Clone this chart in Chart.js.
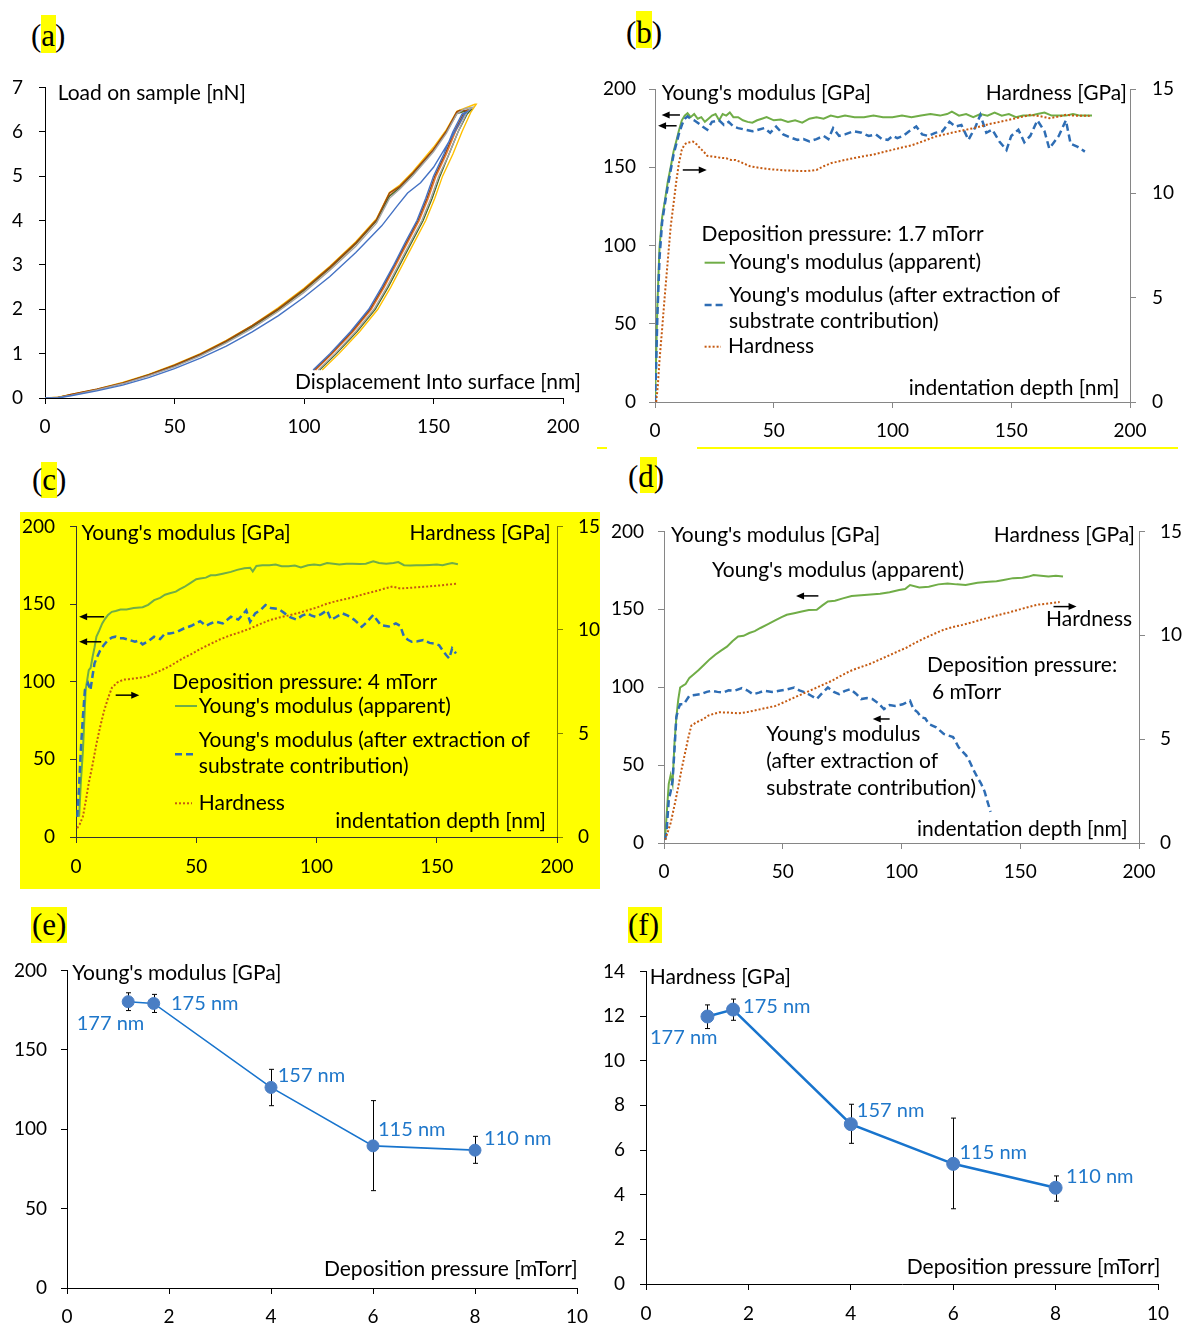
<!DOCTYPE html>
<html>
<head>
<meta charset="utf-8">
<script src="https://cdn.jsdelivr.net/npm/chart.js@4.4.1/dist/chart.umd.min.js"></script>
<style>
  html, body { margin: 0; padding: 0; background: #fff; }
  body { width: 1183px; height: 1327px; position: relative; overflow: hidden; }
  canvas { position: absolute; }
  .tag { position: absolute; font-family: "Liberation Serif", "Times New Roman", serif; font-size: 31px; line-height: 1; color: #000; white-space: nowrap; }
  .hl { position: absolute; background: #ffff00; }
</style>
</head>
<body>
<!-- highlight marks and the yellow panel background -->
<div class="hl" style="left:20px;top:512px;width:580px;height:377px"></div>
<div class="hl" style="left:41px;top:15px;width:15px;height:38px"></div>
<div class="hl" style="left:636px;top:11px;width:16px;height:37px"></div>
<div class="hl" style="left:41px;top:462px;width:16px;height:36px"></div>
<div class="hl" style="left:640px;top:457px;width:17px;height:36px"></div>
<div class="hl" style="left:31px;top:907px;width:36px;height:36px"></div>
<div class="hl" style="left:628px;top:907px;width:34px;height:36px"></div>
<div class="hl" style="left:597px;top:447px;width:10px;height:2px"></div>
<div class="hl" style="left:697px;top:447px;width:481px;height:2px"></div>

<div class="tag" style="left:31px;top:20px">(a)</div>
<div class="tag" style="left:626px;top:17px">(b)</div>
<div class="tag" style="left:32px;top:464px">(c)</div>
<div class="tag" style="left:628px;top:461px">(d)</div>
<div class="tag" style="left:32px;top:909px">(e)</div>
<div class="tag" style="left:628px;top:909px">(f)</div>

<canvas id="ca"></canvas>
<canvas id="cb"></canvas>
<canvas id="cc"></canvas>
<canvas id="cd"></canvas>
<canvas id="ce"></canvas>
<canvas id="cf"></canvas>

<script>
// ---------- (a) load–displacement curves: loading, hold, unloading ----------
const aDepth1 = [0,5,10,20,30,40,50,60,70,80,90,100,110,120,130,136,140,145,150,155,160,162,
                 163,161,157.5,154,150,147,143.6,139,134.7,130,125,118,110,103.5];
const aLoad1  = [0,0,0.05,0.16,0.29,0.46,0.66,0.9,1.17,1.49,1.85,2.27,2.74,3.28,3.88,4.33,4.62,4.85,5.2,5.68,6.18,6.4,
                 6.45,6.4,6.0,5.5,5.0,4.5,4.0,3.5,3.0,2.5,2.0,1.5,1.0,0.63];
const aDepth2 = [0,5,10,20,30,40,50,60,70,80,90,100,110,120,128,133,137,142,150,155,159,161,
                 164,162,158.5,155,151,148,144.5,140,135.5,131,126,119,111,104.5];
const aLoad2  = [0,0.01,0.07,0.19,0.33,0.51,0.72,0.97,1.26,1.6,1.98,2.42,2.92,3.47,3.99,4.57,4.76,5.06,5.6,6.01,6.43,6.46,
                 6.5,6.4,6.0,5.5,5.0,4.5,4.0,3.5,3.0,2.5,2.0,1.5,1.0,0.63];
const aDepth3 = [0,5,10,20,30,40,50,60,70,80,90,100,110,120,128,133,137,142,150,155,159,162,
                 165,163,159.5,156,152,149,145.5,141,136.5,132,127,120,112,105.5];
const aLoad3  = [0,0.01,0.06,0.18,0.32,0.5,0.7,0.95,1.24,1.57,1.95,2.38,2.88,3.42,3.94,4.5,4.71,5.01,5.55,5.97,6.4,6.52,
                 6.55,6.45,6.0,5.5,5.0,4.5,4.0,3.5,3.0,2.5,2.0,1.5,1.0,0.63];
const aDepth4 = [0,5,10,20,30,40,50,60,70,80,90,100,110,120,128,133,137,142,150,155,159,166,
                 166.5,164.5,161,157.5,153.5,150.5,147,142.5,138,133.5,128.5,121.5,113.5,107];
const aLoad4  = [0,0.02,0.08,0.2,0.35,0.53,0.75,1.0,1.3,1.64,2.03,2.47,2.97,3.52,4.04,4.63,4.8,5.1,5.65,6.05,6.46,6.62,
                 6.62,6.45,6.0,5.5,5.0,4.5,4.0,3.5,3.0,2.5,2.0,1.5,1.0,0.63];
const aDepth5 = [0,5,10,20,30,40,50,60,70,80,90,100,110,120,128,133,137,142,150,155,159,163,
                 164.5,163,159.5,156,152.5,149.5,146,141.5,137,132.5,127.5,120.5,112.5,106];
const aLoad5  = [0,0.01,0.07,0.19,0.33,0.52,0.73,0.98,1.27,1.61,1.99,2.43,2.93,3.48,4.0,4.55,4.74,5.05,5.58,6.0,6.41,6.48,
                 6.5,6.4,6.0,5.5,5.0,4.5,4.0,3.5,3.0,2.5,2.0,1.5,1.0,0.63];
const aDepth6 = [0,5,10,20,30,40,50,60,70,80,90,100,110,120,128,133,137,142,150,155,159,160,
                 163.5,161.5,158,154.5,150.5,147.5,144,139.5,135,130.5,125.5,118.5,110.5,104];
const aLoad6  = [0,0.01,0.08,0.2,0.34,0.52,0.74,0.99,1.29,1.63,2.01,2.45,2.95,3.5,4.02,4.62,4.77,5.07,5.6,6.02,6.45,6.48,
                 6.48,6.4,6.0,5.5,5.0,4.5,4.0,3.5,3.0,2.5,2.0,1.5,1.0,0.63];

// ---------- (b) 1.7 mTorr ----------
const bGreenX = [
  0, 0.5, 1, 1.9, 3, 4.2, 5.4, 6.6, 7.8, 9,
  10, 11.3, 12.5, 13.7, 15, 16.5, 18, 19.5, 21, 22.5,
  24, 25.5, 27, 28.5, 30, 31.5, 33, 35, 37, 39,
  41, 43, 45, 47, 50, 53, 56, 59, 62, 65,
  68, 71, 74, 77, 80, 84, 88, 92, 96, 100,
  104, 108, 112, 116, 120, 123, 125, 128, 131, 134,
  137, 140, 143, 146, 149, 152, 155, 158, 161, 164,
  167, 170, 173, 176, 179, 182, 184];
const bGreenY = [
  0, 30, 62, 99, 118, 129, 141, 150, 160, 167,
  173, 180, 183, 184.5, 182, 184, 181, 182, 179, 181,
  183, 184, 180, 184, 183, 185, 182, 182, 180, 179,
  178.5, 180, 181, 182, 180, 180.5, 179, 180, 178.5, 181,
  182, 181, 183, 182, 183, 182, 182, 183, 182, 182,
  183, 182, 183, 184, 183, 184, 185.5, 183, 184, 182,
  184, 183, 185, 183, 184, 182, 183, 183, 184, 185,
  183, 183, 183, 184, 183, 183, 183];
const bBlueX = [
  0, 0.5, 1, 1.9, 3, 4.2, 5.4, 6.6, 7.8, 9,
  10, 11.3, 12.5, 13.7, 15, 16.5, 18.4, 20, 22, 24,
  27, 29, 31, 33, 35, 38, 41, 43.5, 46, 48.5,
  51, 54, 57, 60, 62.5, 65, 68, 71, 73, 75,
  77.5, 80, 83.5, 87, 90, 93, 95.5, 98, 100, 102,
  104.5, 107, 110, 112.5, 115, 118, 121, 124, 126.5, 129,
  132, 135, 137, 139.5, 142, 145, 148, 150, 153, 155.5,
  158, 161, 164, 166, 168, 170, 173, 175, 178, 181];
const bBlueY = [
  0, 25, 55, 92, 115, 127, 138, 148, 158, 165,
  171, 177, 181, 182.5, 181, 180, 178, 176, 174, 179,
  180, 177, 179, 176, 175, 174, 173, 174, 175, 172,
  176, 171, 169, 167.5, 168, 166.5, 168, 170, 168, 175,
  170, 171, 173, 172, 170, 171, 168, 167.5, 170, 168.6,
  170, 173, 176, 171, 170, 172, 173, 179, 176, 177,
  167.5, 176, 183.5, 172, 174, 166.5, 161, 170, 174, 166,
  170, 180, 173, 162, 166, 170, 180, 165, 163, 160];
const bHardX = [
  0.5, 1.2, 1.9, 3, 4.2, 5.4, 6.6, 7.8, 9, 10,
  11.3, 12.5, 13.7, 15, 16, 17.5, 19, 20.5, 22, 25,
  28, 30, 32, 34, 37, 40, 44, 49, 55, 61.6,
  65, 68, 71, 74, 78, 82, 87, 92, 97, 102.6,
  108, 113, 118, 123, 128, 134, 140, 145, 150, 154,
  158, 162, 166, 170, 173, 177, 180, 183];
const bHardY = [
  0, 0.8, 2.0, 3.5, 5.2, 6.8, 8.4, 9.5, 10.6, 11.4,
  12.1, 12.35, 12.43, 12.45, 12.48, 12.35, 12.16, 12.0, 11.8, 11.75,
  11.7, 11.68, 11.6, 11.6, 11.45, 11.3, 11.22, 11.15, 11.1, 11.07,
  11.08, 11.12, 11.3, 11.44, 11.55, 11.65, 11.76, 11.86, 12.0, 12.16,
  12.3, 12.5, 12.72, 12.85, 12.98, 13.12, 13.3, 13.42, 13.55, 13.65,
  13.76, 13.7, 13.6, 13.68, 13.76, 13.72, 13.72, 13.71];

// ---------- (c) 4 mTorr ----------
const cGreenX = [
  1.3, 2, 2.9, 4, 5.3, 6.1, 6.9, 7.7, 8.5, 9.7,
  10.9, 12.1, 13.3, 14.9, 16.5, 18.5, 21, 24, 27.7, 30,
  32.5, 35, 37, 39, 41.5, 43, 45, 47.5, 50, 51.6,
  54, 56, 58, 61, 64.4, 67, 70, 72.4, 73.5, 75,
  77.5, 80.4, 83, 85.5, 88.4, 91, 93.5, 96.4, 99, 101.5,
  104.4, 107, 109.5, 112.4, 115, 118, 120.5, 123.6, 126, 129,
  132, 134, 136.4, 139, 141.5, 144.4, 147, 150, 152.4, 154.5,
  156.4, 158.8];
const cGreenY = [
  13, 35, 56, 94.6, 107.5, 109, 116, 122, 129, 133,
  137.5, 140.5, 143, 145, 145.5, 146.5, 146.5, 147.5, 148, 149.5,
  152.5, 154, 156, 157, 158, 159.5, 161, 163.5, 166, 166.4,
  167, 168.5, 168.5, 169.5, 170.7, 172, 173, 173.4, 171, 174.5,
  175, 175, 175.5, 174.3, 174.3, 174.8, 173.5, 175, 175.5, 175,
  176.4, 176, 175.5, 176, 176, 175.8, 176, 177.5, 176.5, 176,
  176.5, 177, 175, 174.8, 175, 175, 175.2, 175.5, 175, 175.8,
  176.4, 175.6];
const cBlueX = [
  0.5, 1.2, 2, 2.9, 3.7, 5, 6, 6.9, 7.7, 8.8,
  10, 11.5, 13.3, 15, 16.5, 18, 19.7, 22, 24.5, 26,
  27.7, 30, 32.5, 35, 37, 39, 42, 45, 48, 51.6,
  54, 56, 58, 61, 64.4, 67.5, 70.8, 72.4, 74.5, 77,
  78.8, 81, 83.6, 85, 86.8, 89, 91.6, 94, 96.4, 98,
  99.6, 102, 104.4, 106, 108, 110.8, 113, 115.6, 117, 118.8,
  121, 123.6, 125, 126.8, 130, 133, 134.8, 136.4, 138, 139.6,
  142, 144.4, 147, 149, 151, 152.5, 154, 155.2, 156.4, 158];
const cBlueY = [
  13, 30, 56, 78, 94.6, 99, 94.6, 104, 111.8, 116,
  120, 123.5, 126.8, 128.5, 129, 128, 128, 127, 125.7, 126.5,
  124, 126, 129, 127.5, 131, 131, 132, 134.4, 136, 139,
  136, 137.5, 138.7, 137.5, 141.8, 140, 146, 138.6, 144, 146.5,
  149.4, 147.5, 147, 146, 144, 141.5, 140, 142.5, 144, 142.5,
  141.8, 143.5, 146, 140, 141.5, 144, 142.5, 140, 138, 135.3,
  138.5, 143, 140, 136.4, 135.5, 137.5, 136, 129, 127, 125.7,
  126, 126.8, 125, 124.6, 123.5, 120, 117, 115, 121.4, 118.2];
const cHardX = [
  0.5, 1.5, 2.9, 4, 5.3, 6.9, 8.5, 10, 11.7, 13.3,
  14.9, 17, 19.7, 22, 24.5, 27, 29.3, 32.5, 35.6, 39,
  42, 45, 48.4, 52, 56.4, 60, 64.4, 68.5, 72.4, 76.5,
  80.4, 84.5, 88.4, 92.5, 96.4, 100.5, 104.4, 108.5, 112.4, 116.5,
  120.4, 124.5, 128.4, 131.6, 134.8, 139.5, 144.4, 148.5, 152.4, 155.5,
  158.8];
const cHardY = [
  0.43, 0.6, 1.0, 1.7, 2.6, 3.5, 4.5, 5.3, 6.1, 6.7,
  7.2, 7.45, 7.6, 7.62, 7.66, 7.7, 7.74, 7.9, 8.06, 8.25,
  8.46, 8.66, 8.86, 9.1, 9.35, 9.55, 9.75, 9.9, 10.07, 10.28,
  10.47, 10.6, 10.7, 10.82, 10.95, 11.1, 11.27, 11.4, 11.5, 11.62,
  11.75, 11.87, 12.0, 12.1, 12.0, 12.04, 12.08, 12.12, 12.16, 12.2,
  12.24];

// ---------- (d) 6 mTorr ----------
const dGreenX = [
  0.5, 1.2, 2, 2.8, 3.6, 4.4, 5.2, 6, 6.8, 8,
  9.1, 10.7, 12.3, 14.6, 17, 19.3, 21.7, 24, 26.5, 28.8,
  31.2, 33.5, 35.9, 38.2, 40.6, 43.8, 47, 49.5, 51.7, 54.8,
  58, 61, 64.3, 66.7, 69, 72, 75.3, 79, 83, 87,
  91, 95, 99, 101.5, 103.6, 107.5, 111.5, 115.5, 119.4, 123.2,
  127, 132, 136.7, 140, 143, 147, 150.9, 153.5, 155.6, 158.7,
  161.9, 165, 168];
const dGreenY = [
  4, 20, 38, 43.5, 38, 63.7, 80.7, 92, 99.8, 101,
  102, 106, 108, 111, 114.6, 118, 121, 123.5, 126, 129.5,
  132.5, 133, 134.8, 136, 138, 140.5, 143, 145, 146.5, 147.5,
  148.6, 149.5, 149.7, 152.5, 155, 155.5, 157, 158.5, 159, 159.5,
  160, 161, 162.4, 163, 165.6, 164, 164.5, 166, 166.6, 166,
  165.6, 167, 167.7, 168, 168.8, 170, 170.3, 171, 172, 171.5,
  171, 171.5, 171];
const dBlueX = [
  0.5, 1.2, 2, 2.8, 3.6, 4.4, 5.2, 6, 6.8, 8.3,
  10.7, 13, 15.4, 18, 20, 22.5, 24.9, 27.2, 29.6, 32.8,
  35, 37.5, 40, 42.2, 45.5, 48.5, 51.5, 54.8, 57, 59.5,
  62, 64.3, 66.5, 69, 71.5, 73.7, 76, 78.4, 80.7, 83,
  85.5, 87.7, 90, 92.6, 95, 97.3, 100.5, 103.6, 105, 106.7,
  108.3, 110, 111.5, 114.6, 117.8, 119.7, 121.7, 124, 125.5, 127.2,
  128.8, 130.4, 132, 133.5, 135, 136, 137.5];
const dBlueY = [
  2, 10, 27.6, 33, 40, 59.5, 80.7, 86, 89, 89,
  94.5, 95, 95.5, 97, 97.7, 97, 96.6, 98, 97.7, 99.4,
  98, 95.5, 96.5, 97.7, 97, 97.7, 98.5, 99.8, 98, 96.6,
  94.5, 92.4, 96, 99.8, 97, 95.5, 97.5, 98.7, 96, 92.4,
  93, 92.4, 90, 86, 88.5, 88, 89, 91.3, 86, 84,
  80.7, 80, 76.4, 74.3, 70, 69, 68, 61.6, 59, 56.3,
  52, 46.7, 42, 38.2, 33, 27.6, 20];
const dHardX = [
  0.5, 1.5, 2.8, 4.4, 6, 7.5, 9.1, 10.3, 11.5, 13.5,
  15.4, 17, 18.6, 21, 23.3, 27, 31.2, 35, 39, 43,
  47, 51, 54.8, 58.8, 62.7, 66.6, 70.5, 74.5, 78.4, 82.3,
  86.3, 90.2, 94.2, 98, 102, 106, 109.9, 113.8, 117.8, 121.7,
  125.7, 129.6, 133.5, 137.5, 141.4, 145.3, 149.3, 153.2, 157.1, 162,
  166.6];
const dHardY = [
  0.16, 0.5, 0.96, 1.8, 2.7, 3.6, 4.46, 5.1, 5.65, 5.8,
  5.9, 6.0, 6.13, 6.22, 6.29, 6.28, 6.24, 6.3, 6.4, 6.5,
  6.6, 6.8, 7.0, 7.2, 7.4, 7.6, 7.8, 8.05, 8.28, 8.45,
  8.6, 8.8, 9.0, 9.2, 9.4, 9.65, 9.87, 10.07, 10.27, 10.4,
  10.5, 10.62, 10.75, 10.87, 10.99, 11.1, 11.23, 11.35, 11.47, 11.53,
  11.6];

// ---------- (e), (f) summary vs deposition pressure ----------
const pressure   = [1.2, 1.7, 4, 6, 8];
const thickness  = ['177 nm', '175 nm', '157 nm', '115 nm', '110 nm'];
const modulus    = [180.3, 179.2, 126.3, 89.5, 86.8];
const modulusLo  = [174.7, 173.5, 114.8, 61.3, 78.5];
const modulusHi  = [185.9, 184.9, 137.7, 118, 95.5];
const hardness   = [11.98, 12.29, 7.16, 5.38, 4.31];
const hardnessLo = [11.44, 11.81, 6.3, 3.37, 3.71];
const hardnessHi = [12.5, 12.76, 8.05, 7.43, 4.84];

// ---------- drawing helpers ----------
const FONT = 'Lato, "Liberation Sans", sans-serif';
const GREEN = '#70AD47', BLUE = '#2E6DB4', RUST = '#C55A11';
const EXTRA = {};   // per-canvas annotation specs

const pts = (xs, ys) => xs.map((x, i) => ({ x, y: ys[i] }));

const overlay = {
  id: 'overlay',
  beforeDatasetsDraw(chart) {
    const o = EXTRA[chart.canvas.id];
    if (!o || !o.errors) return;
    const ctx = chart.ctx, xs = chart.scales.x, ys = chart.scales.y;
    ctx.save();
    ctx.strokeStyle = '#000'; ctx.lineWidth = 1;
    o.errors.x.forEach((xv, i) => {
      const px = Math.round(xs.getPixelForValue(xv)) + 0.5;
      const y1 = ys.getPixelForValue(o.errors.lo[i]);
      const y2 = ys.getPixelForValue(o.errors.hi[i]);
      ctx.beginPath();
      ctx.moveTo(px, y1); ctx.lineTo(px, y2);
      ctx.moveTo(px - 2.5, y1); ctx.lineTo(px + 2.5, y1);
      ctx.moveTo(px - 2.5, y2); ctx.lineTo(px + 2.5, y2);
      ctx.stroke();
    });
    ctx.restore();
  },
  afterDatasetsDraw(chart) {
    const o = EXTRA[chart.canvas.id];
    if (!o) return;
    const ctx = chart.ctx, [ox, oy] = o.origin;
    ctx.save();
    (o.arrows || []).forEach(a => {
      const y = chart.scales[a.axis].getPixelForValue(a.y);
      const x1 = chart.scales.x.getPixelForValue(a.from);
      const x2 = chart.scales.x.getPixelForValue(a.to);
      const d = Math.sign(x2 - x1);
      ctx.strokeStyle = '#000'; ctx.fillStyle = '#000'; ctx.lineWidth = 1.5;
      ctx.beginPath(); ctx.moveTo(x1, y); ctx.lineTo(x2 - d * 6, y); ctx.stroke();
      ctx.beginPath(); ctx.moveTo(x2, y); ctx.lineTo(x2 - d * 8, y - 3.5); ctx.lineTo(x2 - d * 8, y + 3.5);
      ctx.closePath(); ctx.fill();
    });
    (o.samples || []).forEach(s => {
      ctx.strokeStyle = s.color; ctx.lineWidth = s.width; ctx.setLineDash(s.dash || []);
      ctx.beginPath(); ctx.moveTo(s.x1 - ox, s.y - oy); ctx.lineTo(s.x2 - ox, s.y - oy); ctx.stroke();
    });
    ctx.setLineDash([]);
    ctx.textBaseline = 'middle';
    (o.texts || []).forEach(t => {
      ctx.font = (t.size || 21) + 'px ' + FONT;
      ctx.fillStyle = t.color || '#000';
      ctx.textAlign = t.align || 'left';
      ctx.fillText(t.t, t.x - ox, t.y - oy);
    });
    if (o.pointLabels) {
      const meta = chart.getDatasetMeta(0);
      ctx.font = '20px ' + FONT;
      ctx.fillStyle = o.pointLabels.color;
      o.pointLabels.text.forEach((s, i) => {
        const p = meta.data[i];
        const [dx, dy, al] = o.pointLabels.offsets[i];
        ctx.textAlign = al;
        ctx.fillText(s, p.x + dx, p.y + dy);
      });
    }
    ctx.restore();
  }
};
Chart.register(overlay);
Chart.defaults.font.family = FONT;
Chart.defaults.font.size = 19;
Chart.defaults.color = '#000';

function axis(pos, min, max, step, color, pad, fitSize) {
  const horiz = pos === 'bottom';
  return {
    type: 'linear', position: pos, min, max,
    ticks: { stepSize: step, padding: pad, color: '#000', font: { size: 19 }, maxRotation: 0 },
    grid: { drawOnChartArea: false, drawTicks: true, tickLength: 6, color, tickColor: color, lineWidth: 1 },
    border: { display: true, color, width: 1 },
    afterFit(s) { if (horiz) s.height = fitSize; else s.width = fitSize; }
  };
}

function line(xs, ys, color, width, dash, yAxisID) {
  return { data: pts(xs, ys), borderColor: color, borderWidth: width, borderDash: dash || [],
           pointRadius: 0, fill: false, tension: 0, yAxisID: yAxisID || 'y' };
}

function build(id, box, scales, datasets, extra) {
  const cv = document.getElementById(id);
  cv.width = box.w; cv.height = box.h;
  cv.style.left = box.x + 'px'; cv.style.top = box.y + 'px';
  EXTRA[id] = Object.assign({ origin: [box.x, box.y] }, extra);
  return new Chart(cv, {
    type: 'line',
    data: { datasets },
    options: {
      responsive: false, animation: false, devicePixelRatio: 1,
      layout: { padding: { left: 0, top: box.pt, right: box.pr, bottom: 0 } },
      scales,
      plugins: { legend: { display: false }, tooltip: { enabled: false } }
    }
  });
}

// ---------- (a) ----------
build('ca', { x: 0, y: 60, w: 600, h: 383, pt: 24, pr: 37 },
  { x: axis('bottom', 0, 200, 50, '#000', 11, 45), y: axis('left', 0, 7, 1, '#000', 16, 45) },
  [
    line(aDepth1, aLoad1, '#4472C4', 1.4),
    line(aDepth3, aLoad3, '#A5A5A5', 1.4),
    line(aDepth6, aLoad6, '#9E480E', 1.4),
    line(aDepth5, aLoad5, '#43682B', 1.4),
    line(aDepth2, aLoad2, '#ED7D31', 1.4),
    line(aDepth4, aLoad4, '#FFC000', 1.4)
  ],
  { texts: [
      { t: 'Load on sample [nN]', x: 57.7, y: 93 },
      { t: 'Displacement Into surface [nm]', x: 581, y: 382, align: 'right' } ] });

// ---------- (b) ----------
const GRAYAX = '#868686';
build('cb', { x: 600, y: 60, w: 583, h: 387, pt: 29, pr: 0 },
  { x: axis('bottom', 0, 200, 50, GRAYAX, 11, 45),
    y: axis('left', 0, 200, 50, GRAYAX, 13, 55),
    y1: axis('right', 0, 15, 5, GRAYAX, 16, 53) },
  [
    line(bHardX, bHardY, RUST, 2, [2, 2], 'y1'),
    line(bBlueX, bBlueY, BLUE, 2.5, [7, 4]),
    line(bGreenX, bGreenY, GREEN, 2)
  ],
  { arrows: [ { from: 10.5, to: 2.8, y: 183.4, axis: 'y' },
              { from: 9.1, to: 1.3, y: 176.5, axis: 'y' },
              { from: 11.7, to: 21.8, y: 11.12, axis: 'y1' } ],
    samples: [ { x1: 704.6, x2: 725, y: 262.7, color: GREEN, width: 2 },
               { x1: 704.6, x2: 725, y: 305, color: BLUE, width: 2.5, dash: [7, 4] },
               { x1: 704.6, x2: 721, y: 346.7, color: RUST, width: 2, dash: [2, 2] } ],
    texts: [
      { t: "Young's modulus [GPa]", x: 661.7, y: 93.3 },
      { t: 'Hardness [GPa]', x: 1127, y: 93, align: 'right' },
      { t: 'indentation depth [nm]', x: 1119.5, y: 388, align: 'right' },
      { t: 'Deposition pressure: 1.7 mTorr', x: 701.6, y: 234 },
      { t: "Young's modulus (apparent)", x: 729, y: 262.7 },
      { t: "Young's modulus (after extraction of", x: 729, y: 295 },
      { t: 'substrate contribution)', x: 729, y: 321.7 },
      { t: 'Hardness', x: 728, y: 346 } ] });

// ---------- (c) ----------
build('cc', { x: 0, y: 500, w: 600, h: 382, pt: 26, pr: 0 },
  { x: axis('bottom', 0, 200, 50, '#333', 12, 45),
    y: axis('left', 0, 200, 50, '#333', 15, 76),
    y1: axis('right', 0, 15, 5, 'rgba(0,0,0,0.5)', 15, 43) },
  [
    line(cHardX, cHardY, RUST, 2, [2, 2], 'y1'),
    line(cBlueX, cBlueY, BLUE, 2.5, [7, 4]),
    line(cGreenX, cGreenY, GREEN, 2)
  ],
  { arrows: [ { from: 11.7, to: 1.3, y: 141.8, axis: 'y' },
              { from: 10.5, to: 1.3, y: 125.7, axis: 'y' },
              { from: 16.5, to: 26.3, y: 6.85, axis: 'y1' } ],
    samples: [ { x1: 175, x2: 197, y: 706, color: GREEN, width: 2 },
               { x1: 175, x2: 197, y: 754.3, color: BLUE, width: 2.5, dash: [7, 4] },
               { x1: 175, x2: 192, y: 803.3, color: RUST, width: 2, dash: [2, 2] } ],
    texts: [
      { t: "Young's modulus [GPa]", x: 81.5, y: 533 },
      { t: 'Hardness [GPa]', x: 550.8, y: 533, align: 'right' },
      { t: 'indentation depth [nm]', x: 546, y: 821.7, align: 'right' },
      { t: 'Deposition pressure: 4 mTorr', x: 172.3, y: 682.3 },
      { t: "Young's modulus (apparent)", x: 198.8, y: 706 },
      { t: "Young's modulus (after extraction of", x: 198.8, y: 740 },
      { t: 'substrate contribution)', x: 198.8, y: 766.7 },
      { t: 'Hardness', x: 198.8, y: 803 } ] });

// ---------- (d) ----------
build('cd', { x: 600, y: 505, w: 583, h: 383, pt: 24, pr: 0 },
  { x: axis('bottom', 0, 200, 50, GRAYAX, 11, 45),
    y: axis('left', 0, 200, 50, GRAYAX, 14, 64),
    y1: axis('right', 0, 15, 5, GRAYAX, 15, 44) },
  [
    line(dHardX, dHardY, RUST, 2, [2, 2], 'y1'),
    line(dBlueX, dBlueY, BLUE, 2.5, [7, 4]),
    line(dGreenX, dGreenY, GREEN, 2)
  ],
  { arrows: [ { from: 65, to: 55.6, y: 158.6, axis: 'y' },
              { from: 164, to: 173.7, y: 11.38, axis: 'y1' },
              { from: 95, to: 87.9, y: 79.6, axis: 'y' } ],
    texts: [
      { t: "Young's modulus [GPa]", x: 671, y: 535 },
      { t: 'Hardness [GPa]', x: 1135, y: 535, align: 'right' },
      { t: 'indentation depth [nm]', x: 1127.7, y: 829.3, align: 'right' },
      { t: "Young's modulus (apparent)", x: 712, y: 570 },
      { t: 'Hardness', x: 1046, y: 619.3 },
      { t: 'Deposition pressure:', x: 927, y: 665.7 },
      { t: '6 mTorr', x: 932, y: 692.3 },
      { t: "Young's modulus", x: 766.3, y: 734.3 },
      { t: '(after extraction of', x: 766.3, y: 761.7 },
      { t: 'substrate contribution)', x: 766.3, y: 788.3 } ] });

// ---------- (e) ----------
const LABEL_BLUE = '#1F77CA';
build('ce', { x: 0, y: 945, w: 600, h: 382, pt: 22, pr: 23 },
  { x: axis('bottom', 0, 10, 2, '#000', 11, 39), y: axis('left', 0, 200, 50, '#000', 14, 67) },
  [ { data: pts(pressure, modulus), borderColor: '#1874CD', borderWidth: 1.6, tension: 0,
      pointRadius: 6, pointBackgroundColor: '#4A7EC4', pointBorderColor: '#4A7EC4', pointBorderWidth: 1 } ],
  { errors: { x: pressure, lo: modulusLo, hi: modulusHi },
    pointLabels: { text: thickness, color: LABEL_BLUE,
      offsets: [[-17.7, 22, 'center'], [17.3, 0, 'left'], [6.7, -12, 'left'], [5, -16.6, 'left'], [9, -12, 'left']] },
    texts: [
      { t: "Young's modulus [GPa]", x: 72.3, y: 973.3 },
      { t: 'Deposition pressure [mTorr]', x: 577.7, y: 1269.3, align: 'right' } ] });

// ---------- (f) ----------
build('cf', { x: 600, y: 945, w: 583, h: 382, pt: 25, pr: 25 },
  { x: axis('bottom', 0, 10, 2, '#000', 12, 43), y: axis('left', 0, 14, 2, '#000', 15, 46) },
  [ { data: pts(pressure, hardness), borderColor: '#1874CD', borderWidth: 2.6, tension: 0,
      pointRadius: 6.5, pointBackgroundColor: '#4A7EC4', pointBorderColor: '#4A7EC4', pointBorderWidth: 1 } ],
  { errors: { x: pressure, lo: hardnessLo, hi: hardnessHi },
    pointLabels: { text: thickness, color: LABEL_BLUE,
      offsets: [[-23.7, 21.4, 'center'], [10, -3.3, 'left'], [6, -14, 'left'], [6.3, -11.6, 'left'], [10.4, -11.3, 'left']] },
    texts: [
      { t: 'Hardness [GPa]', x: 649.7, y: 977.7 },
      { t: 'Deposition pressure [mTorr]', x: 1160.5, y: 1267.7, align: 'right' } ] });
</script>
</body>
</html>
